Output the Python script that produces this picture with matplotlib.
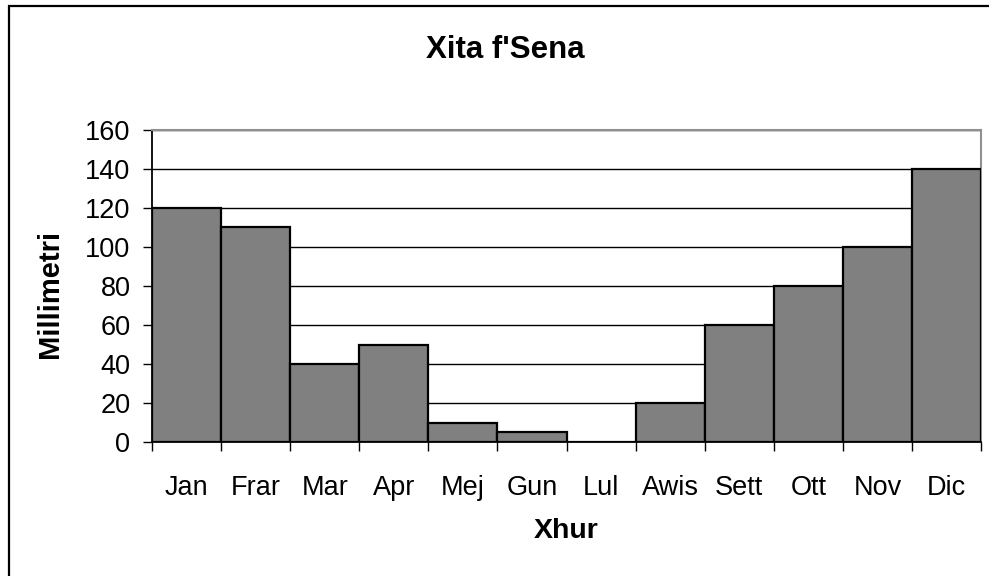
import matplotlib
matplotlib.use("Agg")
import matplotlib.pyplot as plt
from matplotlib.patches import Rectangle
import numpy as np

months = ["Jan", "Frar", "Mar", "Apr", "Mej", "Gun", "Lul", "Awis", "Sett", "Ott", "Nov", "Dic"]
rain_mm = [120, 110, 40, 50, 10, 5, 0, 20, 60, 80, 100, 140]
yticks = [0, 20, 40, 60, 80, 100, 120, 140, 160]

plt.rcParams['font.family'] = ['Liberation Sans', 'DejaVu Sans']

W, H = 989, 576
fig = plt.figure(figsize=(W / 100, H / 100), dpi=100)
ax = fig.add_axes([152 / W, 1 - 442 / H, (981 - 152) / W, (442 - 130) / H])

x = np.arange(len(months))
ax.set_axisbelow(True)
ax.yaxis.grid(True, color='black', lw=1.0)
ax.bar(x, rain_mm, width=1.0, color='#808080', edgecolor='black', linewidth=1.6, zorder=3)

ax.set_xlim(-0.5, len(months) - 0.5)
ax.set_ylim(0, 160)
ax.set_yticks(yticks)
ax.set_yticklabels([str(v) for v in yticks])
ax.set_xticks(np.arange(-0.5, len(months)))
ax.set_xticklabels([])
ax.set_xticks(x, minor=True)
ax.set_xticklabels(months, minor=True)
ax.tick_params(axis='x', which='major', direction='out', length=6.5, width=1, color='black')
ax.tick_params(axis='x', which='minor', length=0, pad=24, labelsize=19.5)
ax.tick_params(axis='y', direction='out', length=6.5, width=1, pad=9, labelsize=19.5)

for s in ['top', 'right']:
    ax.spines[s].set_color('#909090')
    ax.spines[s].set_linewidth(1.5)
for s in ['left', 'bottom']:
    ax.spines[s].set_color('black')
    ax.spines[s].set_linewidth(1.3)
ax.spines['bottom'].set_zorder(4)

fig.text(505 / W, 1 - 50 / H, "Xita f'Sena", ha='center', va='center', fontsize=22.5, fontweight='bold')
fig.text(566 / W, 1 - 531 / H, "Xhur", ha='center', va='center', fontsize=20.5, fontweight='bold')
fig.text(50 / W, 1 - 294 / H, "Millimetri", ha='center', va='center', rotation=90, fontsize=21, fontweight='bold')

fig.patches.append(Rectangle((9 / W, -0.1), 1.2, 1.1 - 6 / H, transform=fig.transFigure,
                             fill=False, edgecolor='black', linewidth=1.6))

fig.savefig("out.png", dpi=100)
